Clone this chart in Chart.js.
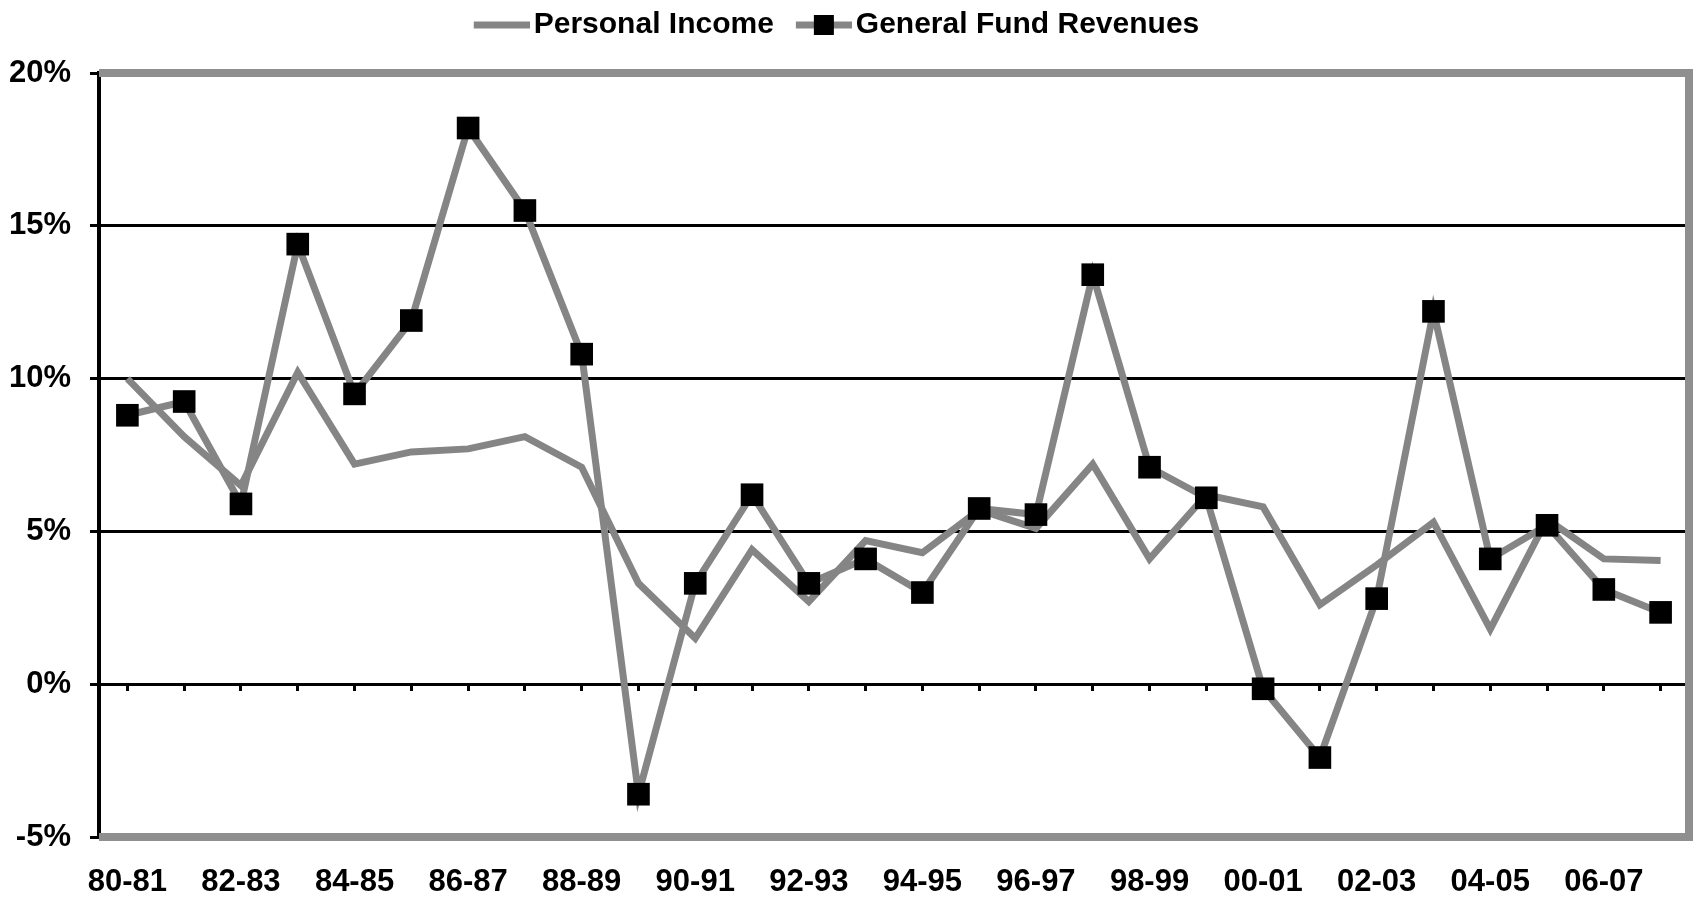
<!DOCTYPE html>
<html>
<head>
<meta charset="utf-8">
<script src="https://cdn.jsdelivr.net/npm/chart.js@4"></script>
<style>
  body { margin: 0; background: #fff; }
  #wrap { width: 1693px; height: 901px; }
</style>
</head>
<body>
<div id="wrap"><canvas id="myChart"></canvas></div>
<script>
const years = [
  "80-81", "81-82", "82-83", "83-84", "84-85", "85-86", "86-87",
  "87-88", "88-89", "89-90", "90-91", "91-92", "92-93", "93-94",
  "94-95", "95-96", "96-97", "97-98", "98-99", "99-00", "00-01",
  "01-02", "02-03", "03-04", "04-05", "05-06", "06-07", "07-08",
];
const personalIncome = [
  10.0, 8.1, 6.5, 10.2, 7.2, 7.6, 7.7, 8.1, 7.1, 3.3, 1.5, 4.4, 2.7, 4.7,
  4.3, 5.7, 5.1, 7.2, 4.1, 6.2, 5.8, 2.6, 3.9, 5.3, 1.8, 5.4, 4.1, 4.05,
];
const generalFund = [
  8.8, 9.25, 5.9, 14.4, 9.5, 11.9, 18.2, 15.5, 10.8, -3.6, 3.3, 6.2, 3.3, 4.1,
  3.0, 5.75, 5.55, 13.4, 7.1, 6.1, -0.15, -2.4, 2.8, 12.2, 4.1, 5.2, 3.1, 2.35,
];
const yTicks = [-5, 0, 5, 10, 15, 20];

const lineGray = "#858585";
const font = "'Liberation Sans', Arial, sans-serif";

// legend icons: line sample (and square marker), drawn on the right part of a wider canvas
function makeIcon(withMarker) {
  const c = document.createElement("canvas");
  c.width = 79;
  c.height = 22;
  const g = c.getContext("2d");
  g.strokeStyle = lineGray;
  g.lineWidth = 7;
  g.beginPath();
  g.moveTo(23, 11);
  g.lineTo(79, 11);
  g.stroke();
  if (withMarker) {
    g.fillStyle = "#000";
    g.fillRect(51 - 10, 1, 20, 20);
  }
  return c;
}
const piIcon = makeIcon(false);
const gfIcon = makeIcon(true);

// gray frame on top, right and bottom of the plot area
const frame = {
  id: "frame",
  beforeDatasetsDraw(chart) {
    const { ctx, chartArea: a } = chart;
    ctx.save();
    ctx.strokeStyle = "#8f8f8f";
    ctx.lineWidth = 8;
    ctx.beginPath();
    ctx.moveTo(a.left, a.top);
    ctx.lineTo(a.right, a.top);
    ctx.lineTo(a.right, a.bottom);
    ctx.lineTo(a.left, a.bottom);
    ctx.stroke();
    ctx.restore();
  },
};

// more room under the legend, and nudge it a bit to the left
const legendGap = {
  id: "legendGap",
  beforeInit(chart) {
    const fit = chart.legend.fit;
    chart.legend.fit = function () {
      fit.call(this);
      this.height += 23;
    };
  },
  afterLayout(chart) {
    chart.legend.left -= 14;
    chart.legend.right -= 14;
  },
};

const noSidePadding = (s) => {
  s.paddingLeft = 0;
  s.paddingRight = 0;
};

const ctx = document.getElementById("myChart");

const chart = new Chart(ctx, {
  type: "line",
  data: {
    labels: years,
    datasets: [
      {
        label: "Personal Income",
        data: personalIncome,
        borderColor: lineGray,
        borderWidth: 7,
        pointRadius: 0,
        tension: 0,
        order: 2,
      },
      {
        label: "General Fund Revenues",
        data: generalFund,
        borderColor: lineGray,
        borderWidth: 7,
        pointStyle: "rect",
        pointRadius: 16,
        pointBackgroundColor: "#000",
        pointBorderColor: "#000",
        pointBorderWidth: 0,
        tension: 0,
        order: 1,
      },
    ],
  },
  options: {
    responsive: true,
    maintainAspectRatio: false,
    animation: false,
    layout: {
      autoPadding: false,
      padding: { top: 0, left: 0, right: 4, bottom: 3 },
    },
    scales: {
      x: {
        offset: true,
        grid: { display: false },
        border: { display: false },
        afterFit: (s) => {
          s.height = 61;
          noSidePadding(s);
        },
        ticks: {
          autoSkip: false,
          maxRotation: 0,
          color: "#000",
          padding: 19,
          font: { family: font, size: 31, weight: "bold" },
          callback: function (val, i) {
            return i % 2 === 0 ? this.getLabelForValue(val) : "";
          },
        },
      },
      x0: {
        type: "category",
        position: { y: 0 },
        offset: true,
        afterFit: (s) => {
          s.height = 0;
          noSidePadding(s);
        },
        grid: {
          offset: false,
          drawOnChartArea: false,
          drawTicks: true,
          tickLength: 7,
          tickColor: "#000",
          tickWidth: 3,
        },
        border: { display: false },
        ticks: { display: false },
      },
      y: {
        min: -5,
        max: 20,
        afterBuildTicks: (axis) => {
          axis.ticks = yTicks.map((v) => ({ value: v }));
        },
        afterFit: (s) => {
          s.width = 99;
        },
        border: { color: "#000", width: 4 },
        grid: {
          color: (c) =>
            c.tick && (c.tick.value === 20 || c.tick.value === -5) ? "rgba(0,0,0,0)" : "#000",
          lineWidth: 3,
          tickLength: 9,
          tickColor: "#000",
          tickWidth: 3,
        },
        ticks: {
          color: "#000",
          padding: 19,
          font: { family: font, size: 31, weight: "bold" },
          callback: (v) => v + "%",
        },
      },
    },
    plugins: {
      tooltip: { enabled: false },
      legend: {
        position: "top",
        labels: {
          usePointStyle: true,
          pointStyleWidth: 57,
          padding: 10,
          color: "#000",
          font: { family: font, size: 30, weight: "bold" },
          generateLabels: () => [
            { text: "Personal Income", pointStyle: piIcon, fontColor: "#000", lineWidth: 0, hidden: false, datasetIndex: 0 },
            { text: "General Fund Revenues", pointStyle: gfIcon, fontColor: "#000", lineWidth: 0, hidden: false, datasetIndex: 1 },
          ],
        },
      },
    },
  },
  plugins: [frame, legendGap],
});
</script>
</body>
</html>
